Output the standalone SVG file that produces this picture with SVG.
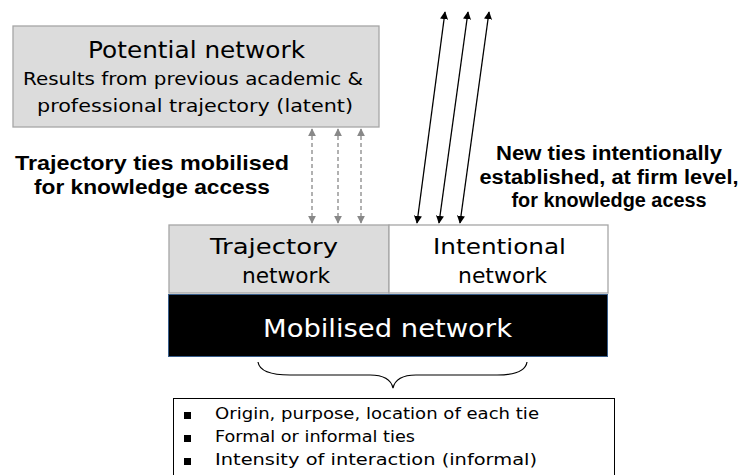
<svg xmlns="http://www.w3.org/2000/svg" width="745" height="475" viewBox="0 0 745 475">
<defs>
<style>
.v{font-family:"DejaVu Sans",Verdana,sans-serif;fill:#000}
.w{font-family:"DejaVu Sans",Verdana,sans-serif;fill:#fff}
.b{font-family:"Liberation Sans",Arial,sans-serif;font-weight:bold;fill:#000}
.grey{fill:#dcdcdc;stroke:#a6a6a6;stroke-width:1.3}
.dash{stroke:#888;stroke-width:1.3;stroke-dasharray:4 3;fill:none}
.solid{stroke:#000;stroke-width:1.3;fill:none}
</style>
<marker id="ag" viewBox="0 0 10 10" refX="9" refY="5" markerWidth="8" markerHeight="8" markerUnits="userSpaceOnUse" orient="auto-start-reverse"><path d="M0,0 L10,5 L0,10 z" fill="#888"/></marker>
<marker id="ab" viewBox="0 0 10 10" refX="9" refY="5" markerWidth="8" markerHeight="8" markerUnits="userSpaceOnUse" orient="auto-start-reverse"><path d="M0,0 L10,5 L0,10 z" fill="#000"/></marker>
</defs>
<rect width="745" height="475" fill="#fff"/>

<g id="potential">
<rect class="grey" x="13" y="26" width="366" height="101"/>
<text class="v" x="88" y="58" font-size="22.5" textLength="217" lengthAdjust="spacingAndGlyphs">Potential network</text>
<text class="v" x="23" y="85" font-size="18" textLength="340" lengthAdjust="spacingAndGlyphs">Results from previous academic &amp;</text>
<text class="v" x="37" y="112" font-size="18" textLength="316" lengthAdjust="spacingAndGlyphs">professional trajectory (latent)</text>
</g>

<g id="label-left">
<text class="b" x="152" y="170" font-size="21" text-anchor="middle" textLength="274" lengthAdjust="spacingAndGlyphs">Trajectory ties mobilised</text>
<text class="b" x="152" y="194" font-size="21" text-anchor="middle" textLength="236" lengthAdjust="spacingAndGlyphs">for knowledge access</text>
</g>

<g id="label-right">
<text class="b" x="609" y="160" font-size="20" text-anchor="middle" textLength="226" lengthAdjust="spacingAndGlyphs">New ties intentionally</text>
<text class="b" x="609" y="184" font-size="20" text-anchor="middle" textLength="259" lengthAdjust="spacingAndGlyphs">established, at firm level,</text>
<text class="b" x="609" y="207" font-size="20" text-anchor="middle" textLength="195" lengthAdjust="spacingAndGlyphs">for knowledge acess</text>
</g>

<g id="trajectory">
<rect class="grey" x="169" y="225" width="220" height="68"/>
<text class="v" x="210" y="254" font-size="22" textLength="128" lengthAdjust="spacingAndGlyphs">Trajectory</text>
<text class="v" x="242" y="283" font-size="22" textLength="88" lengthAdjust="spacingAndGlyphs">network</text>
</g>

<g id="intentional">
<rect x="389" y="225" width="219" height="68" fill="#fff" stroke="#a6a6a6" stroke-width="1.3"/>
<text class="v" x="433" y="254" font-size="22" textLength="133" lengthAdjust="spacingAndGlyphs">Intentional</text>
<text class="v" x="458" y="283" font-size="22" textLength="89" lengthAdjust="spacingAndGlyphs">network</text>
</g>

<g id="mobilised">
<rect x="168.5" y="294.5" width="439" height="62" fill="#000" stroke="#385d8a" stroke-width="1"/>
<text class="w" x="263" y="337" font-size="24.5" textLength="249" lengthAdjust="spacingAndGlyphs">Mobilised network</text>
</g>

<g id="brace">
<path d="M258,362 Q260,375 290,375 L370,375 Q390,375 393,388 Q396,375 416,375 L497,375 Q525,375 527,362" fill="none" stroke="#000" stroke-width="1.2"/>
</g>

<g id="attributes">
<rect x="173.5" y="398.5" width="441" height="90" fill="#fff" stroke="#000" stroke-width="1"/>
<rect x="184" y="412" width="7" height="7" fill="#000"/>
<rect x="184" y="435" width="7" height="7" fill="#000"/>
<rect x="184" y="458" width="7" height="7" fill="#000"/>
<text class="v" x="215" y="419" font-size="15" textLength="324" lengthAdjust="spacingAndGlyphs">Origin, purpose, location of each tie</text>
<text class="v" x="215" y="442" font-size="15" textLength="200" lengthAdjust="spacingAndGlyphs">Formal or informal ties</text>
<text class="v" x="215" y="465" font-size="15" textLength="322" lengthAdjust="spacingAndGlyphs">Intensity of interaction (informal)</text>
</g>

<g id="connectors">
<line class="dash" x1="312" y1="129" x2="312" y2="223" marker-start="url(#ag)" marker-end="url(#ag)"/>
<line class="dash" x1="338" y1="129" x2="338" y2="223" marker-start="url(#ag)" marker-end="url(#ag)"/>
<line class="dash" x1="361" y1="129" x2="361" y2="223" marker-start="url(#ag)" marker-end="url(#ag)"/>
<line class="solid" x1="445" y1="12" x2="417" y2="223" marker-start="url(#ab)" marker-end="url(#ab)"/>
<line class="solid" x1="468" y1="12" x2="439" y2="223" marker-start="url(#ab)" marker-end="url(#ab)"/>
<line class="solid" x1="489" y1="12" x2="460" y2="223" marker-start="url(#ab)" marker-end="url(#ab)"/>
</g>
</svg>
